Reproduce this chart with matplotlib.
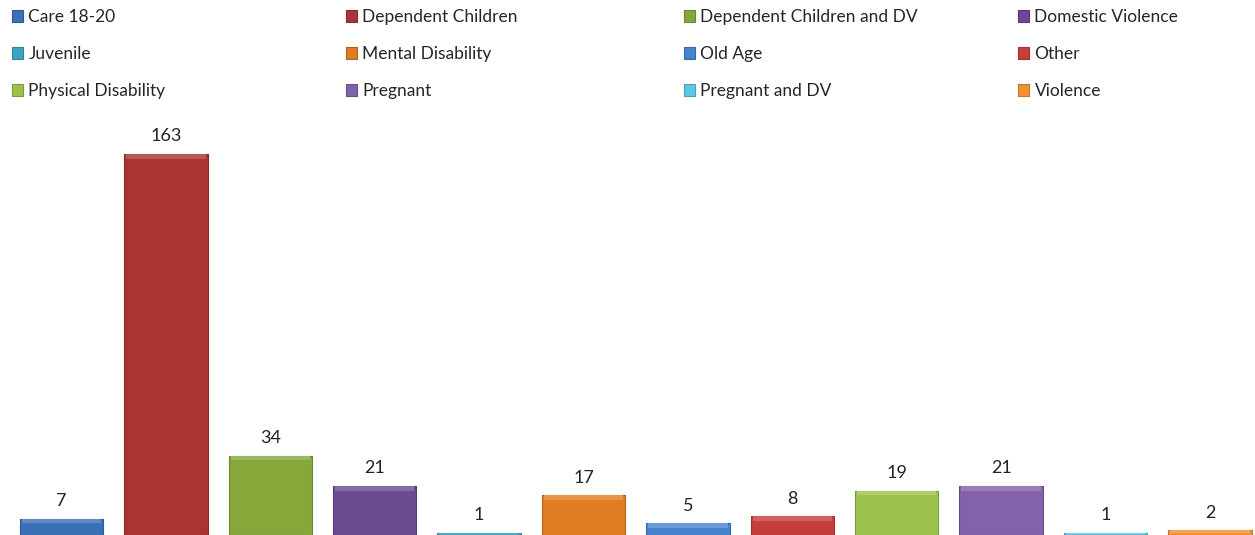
import matplotlib
matplotlib.use("Agg")
import matplotlib.pyplot as plt
import matplotlib.colors as mcolors
import numpy as np

categories = ["Care 18-20", "Dependent Children", "Dependent Children and DV",
              "Domestic Violence", "Juvenile", "Mental Disability", "Old Age",
              "Other", "Physical Disability", "Pregnant", "Pregnant and DV", "Violence"]
values = [7, 163, 34, 21, 1, 17, 5, 8, 19, 21, 1, 2]
colors = ["#3A70B5", "#A93431", "#86A83B", "#6A4C8E", "#3FA4BF", "#E07C23",
          "#4784CF", "#C43E3B", "#9CC24C", "#8262AA", "#5DC8E3", "#F39133"]

plt.rcParams['font.family'] = ['Lato', 'DejaVu Sans']

W, H = 1255, 535
fig = plt.figure(figsize=(W / 100, H / 100), dpi=100)
left_px = 9.3
ax = fig.add_axes([left_px / W, 0, (W - left_px) / W, 410 / H])

x = np.arange(len(values))
step = 104.4
ax.set_xlim(-0.5, -0.5 + (W - left_px) / step)
ax.set_ylim(0, 410 / 2.337)


def shade(c, f):
    r, g, b = mcolors.to_rgb(c)
    if f < 1:
        return (r * f, g * f, b * f)
    return (r + (1 - r) * (f - 1), g + (1 - g) * (f - 1), b + (1 - b) * (f - 1))


bars = []
for i, (v, c, lab) in enumerate(zip(values, colors, categories)):
    b = ax.bar(x[i], v, width=0.8, color=c, edgecolor=shade(c, 0.8),
               linewidth=0.8, label=lab)
    bars.append(b)
    hh = min(2.0, v * 0.6)
    ax.bar(x[i], hh, bottom=v - hh, width=0.8 - 0.04, color=shade(c, 1.18),
           linewidth=0)
    ax.annotate(str(v), (x[i], v), xytext=(0, 7), textcoords="offset points",
                ha="center", va="bottom", fontsize=13, color="#222222")

for s in ax.spines.values():
    s.set_visible(False)
ax.set_xticks([])
ax.set_yticks([])

# legend: 4 columns, row-major order
col_x = [12, 346, 684, 1018]
for j in range(4):
    hs = [bars[j + 4 * r] for r in range(3)]
    ls = [categories[j + 4 * r] for r in range(3)]
    fig.legend(hs, ls, loc="upper left",
               bbox_to_anchor=(col_x[j] / W, 1 - 9 / H),
               frameon=False, fontsize=12.5, handlelength=0.65, handleheight=0.65,
               handletextpad=0.3, labelspacing=1.22, borderaxespad=0,
               borderpad=0, labelcolor="#262626")

fig.savefig("out.png", dpi=100)
